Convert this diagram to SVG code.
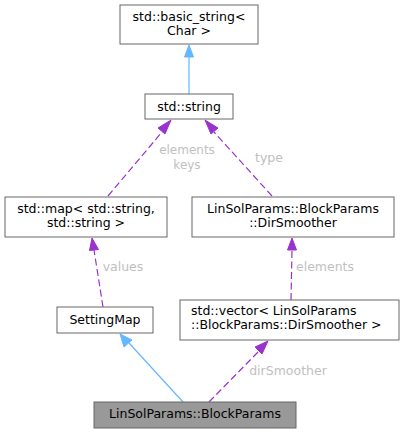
<svg xmlns="http://www.w3.org/2000/svg" width="404" height="433" viewBox="0 0 404 433">
<style>
.box{fill:#ffffff;stroke:#666666;stroke-width:1}
.cur{fill:#999999;stroke:#666666;stroke-width:1}
text{font-family:"DejaVu Sans","Liberation Sans",sans-serif;font-size:12.5px;fill:#000000}
.m{text-anchor:middle}
.lbl{fill:#c0c0c0;text-anchor:middle}
.inh{fill:none;stroke:#63b8ff;stroke-width:1.2}
.use{fill:none;stroke:#9a32cd;stroke-width:1.2;stroke-dasharray:7,3.5}
.ihead{fill:#63b8ff;stroke:#63b8ff}
.uhead{fill:#9a32cd;stroke:#9a32cd}
</style>
<g id="edges">
<path class="inh" d="M189,57 L189,94"/>
<polygon class="ihead" points="189,45 184.5,57 193.5,57"/>
<path class="use" d="M108,196 L162,132"/>
<polygon class="uhead" points="171,120 158,128 165,134"/>
<text class="lbl" x="187" y="154" style="font-size:12px">elements</text>
<text class="lbl" x="187" y="168.5" style="font-size:12px">keys</text>
<path class="use" d="M272,196 L214,132"/>
<polygon class="uhead" points="205,120 211,134 218,128"/>
<text class="lbl" x="269" y="162">type</text>
<path class="use" d="M103,307 L94,250"/>
<polygon class="uhead" points="92,238 89.5,250.5 98.5,249.5"/>
<text class="lbl" x="123" y="271">values</text>
<path class="use" d="M291,300 L292,250"/>
<polygon class="uhead" points="292,238 287.5,250 296.5,250"/>
<text class="lbl" x="325" y="271">elements</text>
<path class="inh" d="M183,402 L129,343"/>
<polygon class="ihead" points="120,334 124,347 132,340"/>
<path class="use" d="M209,402 L260,350"/>
<polygon class="uhead" points="268,341 255,347 262,354"/>
<text class="lbl" x="288" y="375">dirSmoother</text>
</g>
<g id="node-basic_string">
<rect class="box" x="120" y="5" width="138" height="39"/>
<text class="m" x="189" y="21">std::basic_string&lt;</text>
<text class="m" x="189" y="35">Char &gt;</text>
</g>
<g id="node-string">
<rect class="box" x="145" y="94" width="88" height="25"/>
<text class="m" x="189" y="111">std::string</text>
</g>
<g id="node-map">
<rect class="box" x="5" y="197" width="162" height="40"/>
<text class="m" x="86" y="213">std::map&lt; std::string,</text>
<text class="m" x="86" y="227">std::string &gt;</text>
</g>
<g id="node-dirsmoother">
<rect class="box" x="192" y="197" width="202" height="40"/>
<text class="m" x="293" y="213">LinSolParams::BlockParams</text>
<text class="m" x="293" y="227">::DirSmoother</text>
</g>
<g id="node-settingmap">
<rect class="box" x="57" y="307" width="96" height="26"/>
<text class="m" x="105" y="324">SettingMap</text>
</g>
<g id="node-vector">
<rect class="box" x="180" y="300" width="219" height="40"/>
<text x="191" y="315">std::vector&lt; LinSolParams</text>
<text x="191" y="329">::BlockParams::DirSmoother &gt;</text>
</g>
<g id="node-blockparams">
<rect class="cur" x="94" y="402" width="202" height="26"/>
<text class="m" x="195" y="418">LinSolParams::BlockParams</text>
</g>
</svg>
